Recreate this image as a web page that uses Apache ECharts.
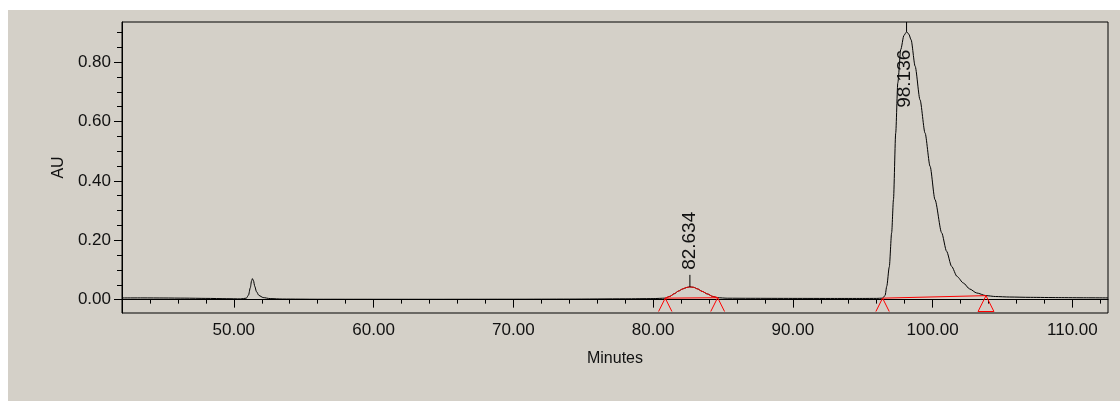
<!DOCTYPE html>
<html>
<head>
<meta charset="utf-8">
<script src="https://cdn.jsdelivr.net/npm/echarts@6/dist/echarts.min.js"></script>
<style>
html,body{margin:0;padding:0;background:#fff;}
#chart{width:1120px;height:401px;}
</style>
</head>
<body>
<div id="chart"></div>
<script>
// ---- data ----
const traceTimes = [42.0, 43.5, 45.0, 46.5, 48.0, 49.5, 50.5, 50.9, 51.05, 51.18, 51.27, 51.33, 51.40, 51.5, 51.62, 51.8, 52.1, 52.6, 53.5, 56, 60, 65, 70, 74, 78, 80.0, 80.87,
  81.2, 81.52, 81.82, 82.12, 82.4, 82.63, 82.9, 83.19, 83.5, 83.9, 84.25, 84.62,
  85.3, 87, 90, 93, 95, 96.0, 96.42, 96.6, 96.72, 96.9, 97.07, 97.2, 97.36, 97.51, 97.72, 97.95, 98.14, 98.3, 98.46, 98.75, 99.1, 99.46, 99.82, 100.17, 100.65, 101.0, 101.36, 101.75, 102.2, 102.65, 103.15, 103.82,
  104.5, 105.5, 107, 109, 111, 112.55];
const traceValues = [0.0057, 0.0058, 0.0055, 0.005, 0.0042, 0.0032, 0.0025, 0.005, 0.015, 0.04, 0.063, 0.0707, 0.065, 0.045, 0.027, 0.014, 0.007, 0.0035, 0.002, 0.0013, 0.0012, 0.0012, 0.0014, 0.0018, 0.0028, 0.0035, 0.005,
  0.011, 0.020, 0.029, 0.036, 0.041, 0.043, 0.0415, 0.036, 0.028, 0.019, 0.011, 0.0065,
  0.0048, 0.0045, 0.0042, 0.0040, 0.0040, 0.0042, 0.005, 0.014, 0.045, 0.11, 0.225, 0.337, 0.561, 0.73, 0.842, 0.89, 0.902, 0.894, 0.875, 0.786, 0.673, 0.561, 0.449, 0.337, 0.225, 0.163, 0.112, 0.078, 0.056, 0.036, 0.0225, 0.0135,
  0.0105, 0.0088, 0.0077, 0.0068, 0.0062, 0.0058];

// integrated (red) portion of the small peak
const redPeakTimes = [80.87, 81.2, 81.52, 81.82, 82.12, 82.4, 82.63, 82.9, 83.19, 83.5, 83.9, 84.25, 84.62];
const redPeakValues = [0.005, 0.011, 0.020, 0.029, 0.036, 0.041, 0.043, 0.0415, 0.036, 0.028, 0.019, 0.011, 0.0065];

// integration baselines
const baselineStartTimes = [80.87, 96.42];
const baselineStartValues = [0.005, 0.005];
const baselineEndTimes = [84.62, 103.82];
const baselineEndValues = [0.0065, 0.0135];

// peak start/end markers
const markerTimes = [80.87, 84.62, 96.42, 103.82];
const markerValues = [0.005, 0.0065, 0.005, 0.0135];
const markerClosed = [false, false, false, true];

// peak labels
const peakTimes = [82.634, 98.136];
const peakHeights = [0.043, 0.902];
const peakLabels = ['82.634', '98.136'];

// axes
const xMajorTicks = [50, 60, 70, 80, 90, 100, 110];
const xMinorTicks = [42, 44, 46, 48, 52, 54, 56, 58, 62, 64, 66, 68, 72, 74, 76, 78, 82, 84, 86, 88, 92, 94, 96, 98, 102, 104, 106, 108, 112];
const yMajorTicks = [0, 0.2, 0.4, 0.6, 0.8];
const yMinorTicks = [0.05, 0.1, 0.15, 0.25, 0.3, 0.35, 0.45, 0.5, 0.55, 0.65, 0.7, 0.75, 0.85, 0.9];

const X_MIN = 42.0, X_MAX = 112.55, Y_MIN = -0.045, Y_MAX = 0.935;
const FONT = '"Liberation Sans", Arial, sans-serif';

const chart = echarts.init(document.getElementById('chart'), null, {renderer: 'canvas'});

const pairs = (a, b) => a.map((t, i) => [t, b[i]]);

const baselineSeries = baselineStartTimes.map((t, i) => ({
  type: 'line', xAxisIndex: 0, yAxisIndex: 0, silent: true, symbol: 'none', z: 4,
  lineStyle: {color: '#ff0000', width: 1},
  data: [[t, baselineStartValues[i]], [baselineEndTimes[i], baselineEndValues[i]]],
  animation: false
}));

const option = {
  animation: false,
  textStyle: {fontFamily: FONT},
  graphic: [{
    type: 'rect', left: 8, top: 10, z: -10, silent: true,
    shape: {width: 1112, height: 391},
    style: {fill: '#d4d0c8'}
  }],
  grid: {left: 122, right: 12, top: 22, bottom: 88, show: true, borderColor: '#000', borderWidth: 1, backgroundColor: 'transparent'},
  xAxis: [{
    type: 'value', min: X_MIN, max: X_MAX,
    name: 'Minutes', nameLocation: 'middle', nameGap: 38,
    nameTextStyle: {color: '#111', fontSize: 16, fontFamily: FONT},
    axisLine: {show: true, lineStyle: {color: '#000', width: 1}},
    axisTick: {show: true, customValues: xMajorTicks, length: 8, lineStyle: {color: '#000'}},
    axisLabel: {customValues: xMajorTicks, formatter: v => v.toFixed(2), color: '#111', fontSize: 17, margin: 9, fontFamily: FONT},
    splitLine: {show: false}
  }, {
    type: 'value', min: X_MIN, max: X_MAX, position: 'bottom',
    axisLine: {show: false},
    axisTick: {show: true, customValues: xMinorTicks, length: 4, lineStyle: {color: '#000'}},
    axisLabel: {show: false},
    splitLine: {show: false}
  }],
  yAxis: [{
    type: 'value', min: Y_MIN, max: Y_MAX,
    name: 'AU', nameLocation: 'middle', nameGap: 52,
    nameTextStyle: {color: '#111', fontSize: 16, fontFamily: FONT},
    axisLine: {show: true, lineStyle: {color: '#000', width: 1}},
    axisTick: {show: true, customValues: yMajorTicks, length: 8, lineStyle: {color: '#000'}},
    axisLabel: {customValues: yMajorTicks, formatter: v => v.toFixed(2), color: '#111', fontSize: 17, margin: 11, fontFamily: FONT},
    splitLine: {show: false}
  }, {
    type: 'value', min: Y_MIN, max: Y_MAX, position: 'left',
    axisLine: {show: false},
    axisTick: {show: true, customValues: yMinorTicks, length: 5, lineStyle: {color: '#000'}},
    axisLabel: {show: false},
    splitLine: {show: false}
  }],
  series: [
    {
      type: 'line', xAxisIndex: 0, yAxisIndex: 0, symbol: 'none', silent: true, z: 3,
      smooth: 0.25, smoothMonotone: 'x',
      lineStyle: {color: '#000', width: 1},
      data: pairs(traceTimes, traceValues)
    },
    {
      type: 'line', xAxisIndex: 0, yAxisIndex: 0, symbol: 'none', silent: true, z: 5,
      smooth: 0.25, smoothMonotone: 'x',
      lineStyle: {color: '#ff0000', width: 1},
      data: pairs(redPeakTimes, redPeakValues)
    },
    ...baselineSeries,
    {
      type: 'custom', xAxisIndex: 0, yAxisIndex: 0, silent: true, z: 6,
      data: markerTimes.map((t, i) => [t, markerValues[i], markerClosed[i] ? 1 : 0]),
      renderItem: function (params, api) {
        const p = api.coord([api.value(0), api.value(1)]);
        const bottom = params.coordSys.y + params.coordSys.height - 1.5;
        const h = bottom - p[1];
        const hw = h / 2;
        if (api.value(2) === 1) {
          return {type: 'polygon', shape: {points: [[p[0], p[1]], [p[0] - hw, bottom], [p[0] + hw, bottom]]},
            style: {fill: 'none', stroke: '#ff0000', lineWidth: 1}};
        }
        return {type: 'polyline', shape: {points: [[p[0] - hw, bottom], [p[0], p[1]], [p[0] + hw, bottom]]},
          style: {fill: 'none', stroke: '#ff0000', lineWidth: 1}};
      }
    },
    {
      type: 'custom', xAxisIndex: 0, yAxisIndex: 0, silent: true, z: 7,
      data: peakTimes.map((t, i) => [t, peakHeights[i], i]),
      renderItem: function (params, api) {
        const idx = api.value(2);
        const p = api.coord([api.value(0), api.value(1)]);
        const top = params.coordSys.y;
        let lineTop, textX, textY;
        if (p[1] - top > 80) {
          lineTop = p[1] - 12;
          textX = p[0];
          textY = p[1] - 17;
        } else {
          lineTop = top;
          textX = p[0] - 1.5;
          textY = p[1] + 76;
        }
        return {type: 'group', children: [
          {type: 'line', shape: {x1: p[0], y1: p[1], x2: p[0], y2: lineTop}, style: {stroke: '#000', lineWidth: 1}},
          {type: 'text', x: textX, y: textY, rotation: Math.PI / 2,
            style: {text: peakLabels[idx], fontSize: 19, fontFamily: FONT, fill: '#111', align: 'left', verticalAlign: 'middle'}}
        ]};
      }
    }
  ]
};
chart.setOption(option);
</script>
</body>
</html>
